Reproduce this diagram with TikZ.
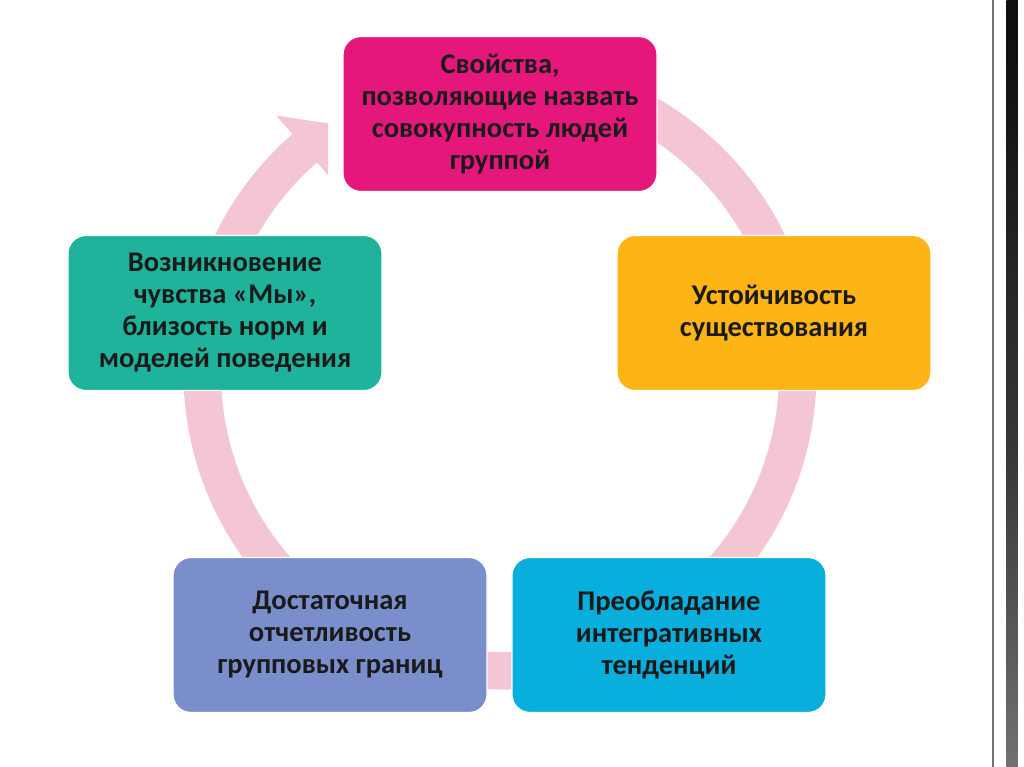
\documentclass[tikz,border=0pt]{standalone}
\usepackage{fontspec}
\setmainfont{Carlito}
\usetikzlibrary{calc}
\definecolor{ringpink}{HTML}{F4C6D3}
\definecolor{cMagenta}{HTML}{E6177A}
\definecolor{cYellow}{HTML}{FCB514}
\definecolor{cTeal}{HTML}{1FB39B}
\definecolor{cPeri}{HTML}{7A8ECB}
\definecolor{cCyan}{HTML}{08AEDC}
\definecolor{txt}{HTML}{1A1A1A}
\pgfdeclareverticalshading{stripshade}{24bp}{color(0bp)=(black!22); color(20bp)=(black!50); color(45bp)=(black!78); color(70bp)=(black!93); color(100bp)=(black)}
\tikzset{
  box/.style={rectangle, rounded corners=18pt, minimum width=314pt, minimum height=155pt,
    draw=white, line width=1.2pt, align=center, text=txt,
    font=\bfseries\fontsize{28.5}{32}\selectfont}
}
\begin{document}
\begin{tikzpicture}[x=1pt,y=1pt]
\useasboundingbox (0,0) rectangle (1024,767);
\fill[white] (0,0) rectangle (1024,767);
% right decorative strip
\shade[shading=stripshade] (1000,0) rectangle (1024,767);
\draw[black!55, line width=2pt] (993,0) -- (993,767);
% ring
\coordinate (C) at (500,394);
\fill[ringpink] ($(C)+(130:316.5pt)$) arc[start angle=130, end angle=460, radius=316.5pt]
  -- ($(C)+(460:279pt)$) arc[start angle=460, end angle=130, radius=279pt] -- cycle;
% arrow head
\begin{scope}
\clip (0,0) rectangle (328,767);
\fill[ringpink] ($(C)+(131:341pt)$) -- ($(C)+(123.3:297pt)$) -- ($(C)+(131:258pt)$) -- cycle;
\end{scope}
% boxes
\node[box, fill=cMagenta] (top) at (500,653) {Свойства,\\позволяющие назвать\\совокупность людей\\группой};
\node[box, fill=cYellow] (right) at (774,454) {Устойчивость\\существования};
\node[box, fill=cTeal] (left) at (225,454) {Возникновение\\чувства «Мы»,\\близость норм и\\моделей поведения};
\node[box, fill=cPeri] (bl) at (330,132) {Достаточная\\отчетливость\\групповых границ};
\node[box, fill=cCyan] (br) at (669,132) {Преобладание\\интегративных\\тенденций};
\end{tikzpicture}
\end{document}
